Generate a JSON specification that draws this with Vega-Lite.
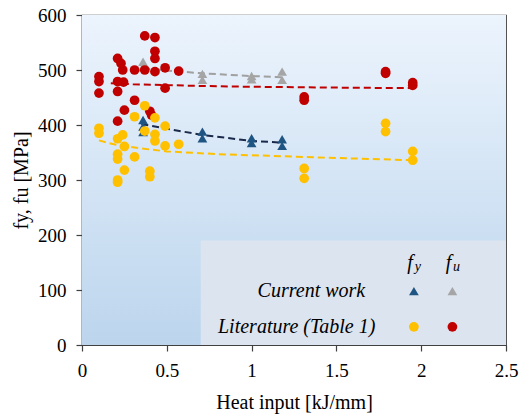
{
  "$schema": "https://vega.github.io/schema/vega-lite/v6.json",
  "width": 424,
  "height": 330,
  "padding": {"left": 11, "top": 6, "right": 2, "bottom": 2},
  "config": {
    "font": "Liberation Serif",
    "view": {"stroke": "#404040", "strokeWidth": 1.2},
    "axis": {
      "labelFont": "Liberation Serif", "titleFont": "Liberation Serif",
      "labelFontSize": 19, "titleFontSize": 20, "labelColor": "#000", "titleColor": "#000",
      "titleFontWeight": "normal", "domainColor": "#404040", "tickColor": "#404040",
      "domainWidth": 1.2, "tickWidth": 1.2, "tickSize": 6, "grid": false, "labelFlush": false
    }
  },
  "datasets": {
    "points": [
      {"heat": 0.36, "strength": 409, "series": "fy current"},
      {"heat": 0.36, "strength": 397, "series": "fy current"},
      {"heat": 0.36, "strength": 387, "series": "fy current"},
      {"heat": 0.71, "strength": 388, "series": "fy current"},
      {"heat": 0.71, "strength": 376, "series": "fy current"},
      {"heat": 1.0, "strength": 376, "series": "fy current"},
      {"heat": 1.0, "strength": 367, "series": "fy current"},
      {"heat": 1.18, "strength": 374, "series": "fy current"},
      {"heat": 1.18, "strength": 362, "series": "fy current"},
      {"heat": 0.36, "strength": 515, "series": "fu current"},
      {"heat": 0.36, "strength": 505, "series": "fu current"},
      {"heat": 0.71, "strength": 493, "series": "fu current"},
      {"heat": 0.71, "strength": 482, "series": "fu current"},
      {"heat": 1.0, "strength": 489, "series": "fu current"},
      {"heat": 1.0, "strength": 483, "series": "fu current"},
      {"heat": 1.18, "strength": 497, "series": "fu current"},
      {"heat": 1.18, "strength": 482, "series": "fu current"},
      {"heat": 0.1, "strength": 488, "series": "fu lit"},
      {"heat": 0.1, "strength": 479, "series": "fu lit"},
      {"heat": 0.1, "strength": 458, "series": "fu lit"},
      {"heat": 0.21, "strength": 521, "series": "fu lit"},
      {"heat": 0.23, "strength": 512, "series": "fu lit"},
      {"heat": 0.24, "strength": 500, "series": "fu lit"},
      {"heat": 0.21, "strength": 479, "series": "fu lit"},
      {"heat": 0.245, "strength": 478, "series": "fu lit"},
      {"heat": 0.21, "strength": 461, "series": "fu lit"},
      {"heat": 0.21, "strength": 407, "series": "fu lit"},
      {"heat": 0.25, "strength": 427, "series": "fu lit"},
      {"heat": 0.31, "strength": 500, "series": "fu lit"},
      {"heat": 0.31, "strength": 445, "series": "fu lit"},
      {"heat": 0.37, "strength": 562, "series": "fu lit"},
      {"heat": 0.37, "strength": 500, "series": "fu lit"},
      {"heat": 0.43, "strength": 559, "series": "fu lit"},
      {"heat": 0.43, "strength": 534, "series": "fu lit"},
      {"heat": 0.43, "strength": 521, "series": "fu lit"},
      {"heat": 0.43, "strength": 497, "series": "fu lit"},
      {"heat": 0.4, "strength": 425, "series": "fu lit"},
      {"heat": 0.41, "strength": 418, "series": "fu lit"},
      {"heat": 0.49, "strength": 504, "series": "fu lit"},
      {"heat": 0.49, "strength": 467, "series": "fu lit"},
      {"heat": 0.57, "strength": 498, "series": "fu lit"},
      {"heat": 1.31, "strength": 451, "series": "fu lit"},
      {"heat": 1.31, "strength": 445, "series": "fu lit"},
      {"heat": 1.79, "strength": 497, "series": "fu lit"},
      {"heat": 1.79, "strength": 494, "series": "fu lit"},
      {"heat": 1.95, "strength": 477, "series": "fu lit"},
      {"heat": 1.95, "strength": 472, "series": "fu lit"},
      {"heat": 0.1, "strength": 394, "series": "fy lit"},
      {"heat": 0.1, "strength": 385, "series": "fy lit"},
      {"heat": 0.24, "strength": 382, "series": "fy lit"},
      {"heat": 0.21, "strength": 375, "series": "fy lit"},
      {"heat": 0.25, "strength": 361, "series": "fy lit"},
      {"heat": 0.21, "strength": 347, "series": "fy lit"},
      {"heat": 0.21, "strength": 338, "series": "fy lit"},
      {"heat": 0.25, "strength": 318, "series": "fy lit"},
      {"heat": 0.21, "strength": 300, "series": "fy lit"},
      {"heat": 0.21, "strength": 296, "series": "fy lit"},
      {"heat": 0.31, "strength": 415, "series": "fy lit"},
      {"heat": 0.31, "strength": 342, "series": "fy lit"},
      {"heat": 0.37, "strength": 435, "series": "fy lit"},
      {"heat": 0.37, "strength": 389, "series": "fy lit"},
      {"heat": 0.4, "strength": 316, "series": "fy lit"},
      {"heat": 0.4, "strength": 306, "series": "fy lit"},
      {"heat": 0.43, "strength": 413, "series": "fy lit"},
      {"heat": 0.43, "strength": 383, "series": "fy lit"},
      {"heat": 0.43, "strength": 371, "series": "fy lit"},
      {"heat": 0.49, "strength": 398, "series": "fy lit"},
      {"heat": 0.49, "strength": 362, "series": "fy lit"},
      {"heat": 0.57, "strength": 365, "series": "fy lit"},
      {"heat": 1.31, "strength": 321, "series": "fy lit"},
      {"heat": 1.31, "strength": 303, "series": "fy lit"},
      {"heat": 1.79, "strength": 403, "series": "fy lit"},
      {"heat": 1.79, "strength": 388, "series": "fy lit"},
      {"heat": 1.95, "strength": 352, "series": "fy lit"},
      {"heat": 1.95, "strength": 336, "series": "fy lit"}
    ],
    "trends": [
      {"heat": 0.36, "strength": 503, "series": "fu current"},
      {"heat": 0.5, "strength": 499, "series": "fu current"},
      {"heat": 0.71, "strength": 494, "series": "fu current"},
      {"heat": 1.0, "strength": 489, "series": "fu current"},
      {"heat": 1.18, "strength": 487, "series": "fu current"},
      {"heat": 0.35, "strength": 402, "series": "fy current"},
      {"heat": 0.5, "strength": 393, "series": "fy current"},
      {"heat": 0.71, "strength": 382, "series": "fy current"},
      {"heat": 1.0, "strength": 371, "series": "fy current"},
      {"heat": 1.18, "strength": 368, "series": "fy current"},
      {"heat": 0.17, "strength": 476, "series": "fu lit"},
      {"heat": 0.3, "strength": 474, "series": "fu lit"},
      {"heat": 0.5, "strength": 472.5, "series": "fu lit"},
      {"heat": 0.7, "strength": 471, "series": "fu lit"},
      {"heat": 1.0, "strength": 469.5, "series": "fu lit"},
      {"heat": 1.5, "strength": 468, "series": "fu lit"},
      {"heat": 1.95, "strength": 467, "series": "fu lit"},
      {"heat": 0.1, "strength": 372, "series": "fy lit"},
      {"heat": 0.2, "strength": 364, "series": "fy lit"},
      {"heat": 0.33, "strength": 358, "series": "fy lit"},
      {"heat": 0.5, "strength": 352, "series": "fy lit"},
      {"heat": 0.8, "strength": 347, "series": "fy lit"},
      {"heat": 1.1, "strength": 344, "series": "fy lit"},
      {"heat": 1.5, "strength": 340, "series": "fy lit"},
      {"heat": 1.95, "strength": 336, "series": "fy lit"}
    ]
  },
  "layer": [
    {
      "data": {"values": [{"part": "background"}]},
      "mark": {"type": "rect", "fill": {"gradient": "linear", "x1": 0, "y1": 0, "x2": 0, "y2": 1,
        "stops": [{"offset": 0, "color": "#ecf4fd"}, {"offset": 1, "color": "#bcd5ed"}]}},
      "encoding": {
        "x": {"datum": 0, "type": "quantitative"}, "x2": {"datum": 2.5},
        "y": {"datum": 0, "type": "quantitative"}, "y2": {"datum": 600}
      }
    },
    {
      "data": {"values": [{"part": "legend box"}]},
      "mark": {"type": "rect", "fill": "#dce4ef"},
      "encoding": {
        "x": {"datum": 0.7, "type": "quantitative"}, "x2": {"datum": 2.5},
        "y": {"datum": 0, "type": "quantitative"}, "y2": {"datum": 190}
      }
    },
    {
      "data": {"name": "trends"},
      "mark": {"type": "line", "strokeDash": [7, 4], "strokeWidth": 2},
      "encoding": {
        "x": {"field": "heat", "type": "quantitative"},
        "y": {"field": "strength", "type": "quantitative"},
        "detail": {"field": "series"},
        "stroke": {"field": "series", "type": "nominal", "legend": null,
          "scale": {"domain": ["fy current", "fu current", "fy lit", "fu lit"],
                    "range": ["#1b2a4a", "#a0a0a0", "#ffc000", "#c00000"]}}
      }
    },
    {
      "data": {"name": "points"},
      "mark": {"type": "point", "filled": true, "opacity": 1},
      "encoding": {
        "x": {"field": "heat", "type": "quantitative",
          "scale": {"domain": [0, 2.5], "nice": false},
          "axis": {"values": [0, 0.5, 1, 1.5, 2, 2.5], "format": "~g", "title": "Heat input [kJ/mm]", "labelPadding": 10, "titlePadding": 12}},
        "y": {"field": "strength", "type": "quantitative",
          "scale": {"domain": [0, 600], "nice": false},
          "axis": {"values": [0, 100, 200, 300, 400, 500, 600], "title": "fy, fu [MPa]", "labelPadding": 10, "titlePadding": 6}},
        "color": {"field": "series", "type": "nominal", "legend": null,
          "scale": {"domain": ["fy current", "fu current", "fy lit", "fu lit"],
                    "range": ["#1f5582", "#a5a5a5", "#ffc000", "#c00000"]}},
        "shape": {"field": "series", "type": "nominal", "legend": null,
          "scale": {"domain": ["fy current", "fu current", "fy lit", "fu lit"],
                    "range": ["triangle-up", "triangle-up", "circle", "circle"]}},
        "size": {"value": 95}
      }
    },
    {
      "data": {"values": [{"label": "Current work"}]},
      "mark": {"type": "text", "align": "right", "baseline": "middle", "fontStyle": "italic", "fontSize": 20, "font": "Liberation Serif", "color": "#000"},
      "encoding": {"x": {"datum": 1.67}, "y": {"datum": 98}, "text": {"field": "label"}}
    },
    {
      "data": {"values": [{"label": "Literature (Table 1)"}]},
      "mark": {"type": "text", "align": "right", "baseline": "middle", "fontStyle": "italic", "fontSize": 20, "font": "Liberation Serif", "color": "#000"},
      "encoding": {"x": {"datum": 1.73}, "y": {"datum": 33}, "text": {"field": "label"}}
    },
    {
      "data": {"values": [{"label": "f"}]},
      "mark": {"type": "text", "align": "center", "baseline": "middle", "fontStyle": "italic", "fontSize": 20, "font": "Liberation Serif", "color": "#000", "dx": -4},
      "encoding": {"x": {"datum": 1.957}, "y": {"datum": 149}, "text": {"field": "label"}}
    },
    {
      "data": {"values": [{"label": "y"}]},
      "mark": {"type": "text", "align": "center", "baseline": "middle", "fontStyle": "italic", "fontSize": 14, "font": "Liberation Serif", "color": "#000", "dx": 4, "dy": 4},
      "encoding": {"x": {"datum": 1.957}, "y": {"datum": 149}, "text": {"field": "label"}}
    },
    {
      "data": {"values": [{"label": "f"}]},
      "mark": {"type": "text", "align": "center", "baseline": "middle", "fontStyle": "italic", "fontSize": 20, "font": "Liberation Serif", "color": "#000", "dx": -4},
      "encoding": {"x": {"datum": 2.184}, "y": {"datum": 149}, "text": {"field": "label"}}
    },
    {
      "data": {"values": [{"label": "u"}]},
      "mark": {"type": "text", "align": "center", "baseline": "middle", "fontStyle": "italic", "fontSize": 14, "font": "Liberation Serif", "color": "#000", "dx": 4, "dy": 4},
      "encoding": {"x": {"datum": 2.184}, "y": {"datum": 149}, "text": {"field": "label"}}
    },
    {
      "data": {"values": [{"key": "legend"}]},
      "mark": {"type": "point", "filled": true, "opacity": 1, "size": 95},
      "encoding": {"x": {"datum": 1.957}, "y": {"datum": 98},
        "color": {"datum": "fy current"}, "shape": {"datum": "fy current"}}
    },
    {
      "data": {"values": [{"key": "legend"}]},
      "mark": {"type": "point", "filled": true, "opacity": 1, "size": 95},
      "encoding": {"x": {"datum": 2.184}, "y": {"datum": 98},
        "color": {"datum": "fu current"}, "shape": {"datum": "fu current"}}
    },
    {
      "data": {"values": [{"key": "legend"}]},
      "mark": {"type": "point", "filled": true, "opacity": 1, "size": 95},
      "encoding": {"x": {"datum": 1.957}, "y": {"datum": 33},
        "color": {"datum": "fy lit"}, "shape": {"datum": "fy lit"}}
    },
    {
      "data": {"values": [{"key": "legend"}]},
      "mark": {"type": "point", "filled": true, "opacity": 1, "size": 95},
      "encoding": {"x": {"datum": 2.184}, "y": {"datum": 33},
        "color": {"datum": "fu lit"}, "shape": {"datum": "fu lit"}}
    }
  ]
}
